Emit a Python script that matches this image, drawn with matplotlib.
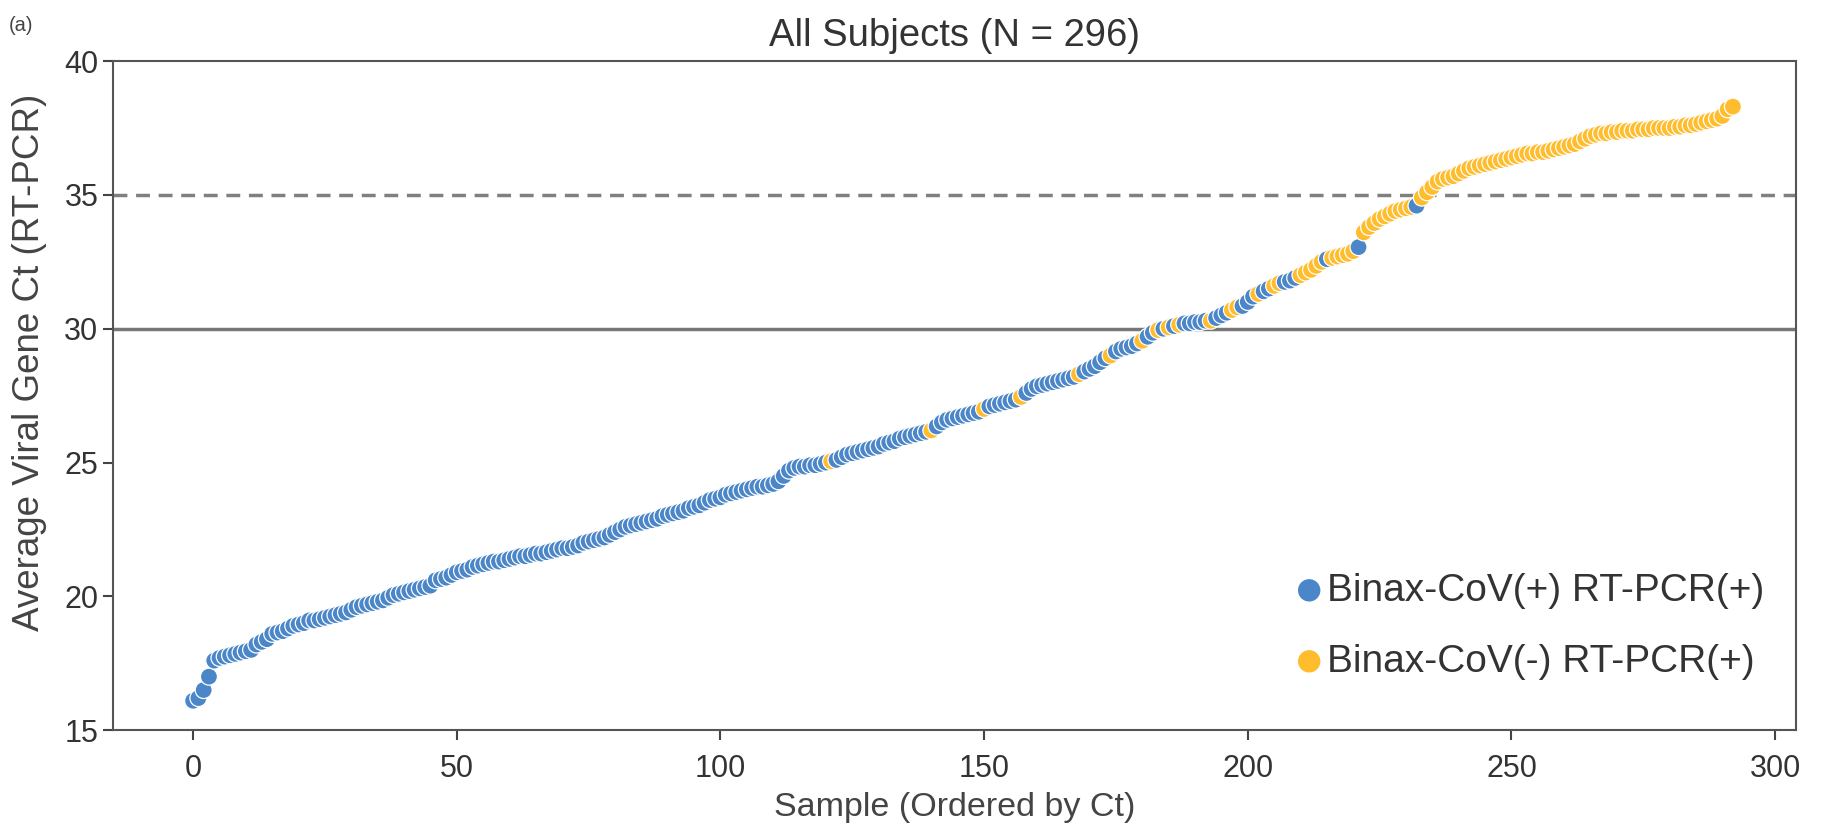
import matplotlib
matplotlib.use("Agg")
import matplotlib.pyplot as plt
import numpy as np

# Ct values, sample index = position in list
ct = [
    16.1, 16.2, 16.5, 17.0, 17.6, 17.7, 17.75, 17.8, 17.85, 17.9,
    17.95, 18.0, 18.2, 18.3, 18.4, 18.6, 18.65, 18.7, 18.8, 18.9,
    18.95, 19.0, 19.1, 19.1, 19.15, 19.2, 19.25, 19.3, 19.35, 19.4,
    19.5, 19.6, 19.65, 19.7, 19.75, 19.8, 19.85, 19.95, 20.05, 20.1,
    20.15, 20.2, 20.25, 20.3, 20.35, 20.4, 20.6, 20.65, 20.7, 20.8,
    20.9, 20.95, 21.0, 21.1, 21.15, 21.2, 21.25, 21.3, 21.3, 21.35,
    21.4, 21.45, 21.5, 21.5, 21.55, 21.6, 21.6, 21.65, 21.7, 21.75,
    21.8, 21.8, 21.85, 21.9, 22.0, 22.05, 22.1, 22.15, 22.2, 22.3,
    22.4, 22.5, 22.6, 22.65, 22.7, 22.75, 22.8, 22.85, 22.9, 23.0,
    23.05, 23.1, 23.15, 23.2, 23.3, 23.35, 23.4, 23.5, 23.6, 23.65,
    23.7, 23.8, 23.85, 23.9, 23.95, 24.0, 24.05, 24.1, 24.1, 24.15,
    24.2, 24.3, 24.5, 24.7, 24.8, 24.85, 24.85, 24.9, 24.9, 24.95,
    25.0, 25.05, 25.1, 25.2, 25.3, 25.35, 25.4, 25.45, 25.5, 25.55,
    25.6, 25.7, 25.75, 25.8, 25.9, 25.95, 26.0, 26.05, 26.1, 26.15,
    26.2, 26.35, 26.5, 26.6, 26.65, 26.7, 26.75, 26.8, 26.85, 26.9,
    27.0, 27.1, 27.15, 27.2, 27.25, 27.3, 27.35, 27.45, 27.6, 27.75,
    27.85, 27.9, 27.95, 28.0, 28.05, 28.1, 28.15, 28.2, 28.3, 28.4,
    28.5, 28.6, 28.75, 28.9, 29.0, 29.15, 29.25, 29.3, 29.35, 29.45,
    29.55, 29.7, 29.85, 29.95, 30.0, 30.05, 30.1, 30.15, 30.2, 30.2,
    30.25, 30.25, 30.3, 30.3, 30.4, 30.5, 30.6, 30.7, 30.8, 30.85,
    31.0, 31.2, 31.3, 31.4, 31.5, 31.6, 31.7, 31.75, 31.8, 31.9,
    32.0, 32.1, 32.2, 32.35, 32.5, 32.6, 32.65, 32.7, 32.75, 32.8,
    32.9, 33.05, 33.6, 33.8, 33.95, 34.1, 34.2, 34.3, 34.4, 34.45,
    34.5, 34.55, 34.6, 34.9, 35.1, 35.3, 35.5, 35.6, 35.65, 35.7,
    35.8, 35.9, 36.0, 36.05, 36.1, 36.15, 36.2, 36.25, 36.3, 36.35,
    36.4, 36.45, 36.5, 36.55, 36.55, 36.6, 36.6, 36.65, 36.7, 36.75,
    36.8, 36.85, 36.9, 37.0, 37.1, 37.2, 37.25, 37.3, 37.3, 37.35,
    37.35, 37.4, 37.4, 37.4, 37.45, 37.45, 37.45, 37.5, 37.5, 37.5,
    37.5, 37.55, 37.55, 37.6, 37.6, 37.65, 37.7, 37.75, 37.8, 37.85,
    37.95, 38.2, 38.3,
]

# samples where Binax-CoV was negative (everything else is positive)
binax_neg = [121, 140, 150, 157, 168, 174, 180, 183, 185, 187, 193, 197, 198,
             202, 205, 206, 210, 211, 212, 213, 214, 216, 217, 218, 219, 220] + \
            list(range(222, 232)) + list(range(233, 293))

labels = ["Binax-CoV(+) RT-PCR(+)", "Binax-CoV(-) RT-PCR(+)"]
colors = ["#4A86C8", "#FFBD2E"]
ticks_x = [0, 50, 100, 150, 200, 250, 300]
ticks_y = [15, 20, 25, 30, 35, 40]

ct = np.array(ct)
idx = np.arange(len(ct))
neg = np.isin(idx, binax_neg)

plt.rcParams['font.family'] = ['Liberation Sans', 'DejaVu Sans']
fig = plt.figure(figsize=(18.31, 8.26), dpi=100)
ax = fig.add_axes([0.0617, 0.116, 0.9193, 0.81])

ax.axhline(30, color="#777777", lw=2.5, zorder=1)
ax.axhline(35, color="#808080", lw=2.5, ls=(0, (4, 2.5)), zorder=1)

# legend proxies (empty), then points drawn in sample order so later ones overlap
ax.scatter([], [], s=150, c=colors[0], label=labels[0])
ax.scatter([], [], s=150, c=colors[1], label=labels[1])
point_colors = [colors[1] if n else colors[0] for n in neg]
ax.scatter(idx, ct, s=150, c=point_colors, edgecolors="white",
           linewidths=0.9, zorder=3)

ax.set_xlim(-15.2, 304)
ax.set_ylim(15, 40)
ax.set_xticks(ticks_x)
ax.set_yticks(ticks_y)
ax.tick_params(axis='both', labelsize=22, length=7, width=1.5, color="#444444",
               labelcolor="#333333")
ax.tick_params(axis='x', pad=10)
for sp in ax.spines.values():
    sp.set_color("#555555")
    sp.set_linewidth(1.5)

ax.set_xlabel("Sample (Ordered by Ct)", fontsize=24.5, color="#444444", labelpad=6)
ax.set_ylabel("Average Viral Gene Ct (RT-PCR)", fontsize=26.5, color="#444444")
ax.yaxis.set_label_coords(-0.039, 0.55)
ax.set_title("All Subjects (N = 296)", fontsize=27.5, color="#333333", pad=11)
fig.text(0.005, 0.963, "(a)", fontsize=14.5, color="#444444")

leg = ax.legend(loc="lower right", bbox_to_anchor=(0.997, 0.035), frameon=False,
                fontsize=28, handletextpad=-0.55, labelspacing=0.9,
                borderaxespad=0.3, labelcolor="#333333")
for h in leg.legend_handles:
    h.set_sizes([260])
    h.set_edgecolor("none")

fig.savefig("out.png", dpi=100)
